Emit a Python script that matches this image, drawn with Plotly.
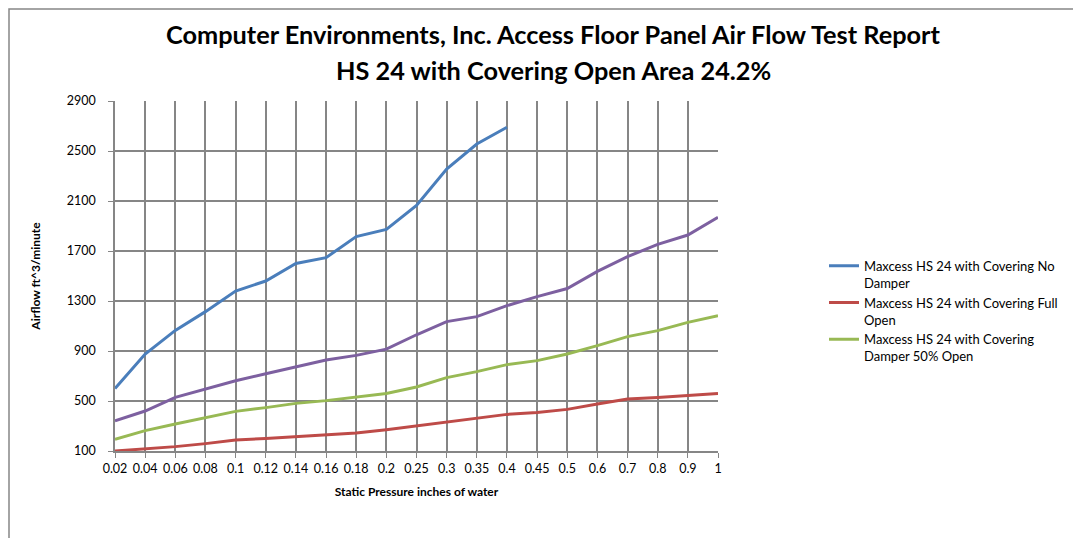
import plotly.graph_objects as go

categories = ["0.02", "0.04", "0.06", "0.08", "0.1", "0.12", "0.14", "0.16", "0.18", "0.2",
              "0.25", "0.3", "0.35", "0.4", "0.45", "0.5", "0.6", "0.7", "0.8", "0.9", "1"]

no_damper = [600, 875, 1065, 1215, 1380, 1460, 1600, 1647, 1815, 1873,
             2065, 2356, 2556, 2690, None, None, None, None, None, None, None]
full_open = [100, 116, 135, 159, 188, 201, 215, 231, 244, 270,
             301, 329, 361, 393, 409, 433, 476, 516, 529, 545, 561]
damper_50 = [193, 263, 316, 367, 417, 447, 481, 503, 529, 560,
             612, 687, 735, 791, 823, 876, 943, 1015, 1063, 1129, 1183]
unlabeled = [341, 420, 529, 597, 662, 718, 772, 828, 865, 915,
             1030, 1135, 1175, 1263, 1335, 1400, 1537, 1655, 1753, 1828, 1969]

names = ["Maxcess HS 24 with Covering No<br>Damper",
         "Maxcess HS 24 with Covering Full<br>Open",
         "Maxcess HS 24 with Covering<br>Damper 50% Open"]

FONT = "Lato"

# page has an 8px body margin; plot area target in page px: x 115-718, y 101-451
OFF = 8
L, T = 115 - OFF, 101 - OFF
PW, PH = 603, 350
W, H = 1081, 538

fig = go.Figure()
fig.add_trace(go.Scatter(x=categories, y=no_damper, mode="lines", name=names[0],
                         line=dict(color="#4A7EBB", width=3)))
fig.add_trace(go.Scatter(x=categories, y=full_open, mode="lines", name=names[1],
                         line=dict(color="#BE4B48", width=3)))
fig.add_trace(go.Scatter(x=categories, y=damper_50, mode="lines", name=names[2],
                         line=dict(color="#98B954", width=3)))
fig.add_trace(go.Scatter(x=categories, y=unlabeled, mode="lines", showlegend=False,
                         line=dict(color="#7D60A0", width=3)))

grid = "#868686"
fig.update_layout(
    width=W, height=H,
    margin=dict(l=L, r=W - L - PW, t=T, b=H - T - PH),
    paper_bgcolor="white", plot_bgcolor="white",
    font=dict(family=FONT, color="black", size=12),
    xaxis=dict(type="category", range=[0, 20], showgrid=True, gridcolor=grid, gridwidth=1.5,
               showline=True, linecolor=grid, linewidth=1.5, ticks="outside", ticklen=5,
               tickcolor=grid, tickfont=dict(size=12.5), zeroline=False,
               title=dict(text="<b>Static Pressure inches of water</b>", font=dict(size=12), standoff=13)),
    yaxis=dict(range=[100, 2900], tick0=100, dtick=400, showgrid=True, gridcolor=grid, gridwidth=1.5,
               showline=True, linecolor=grid, linewidth=1.5, ticks="outside", ticklen=5,
               tickcolor=grid, tickfont=dict(size=12.5), zeroline=False, ticklabelstandoff=10,
               title=dict(text="<b>Airflow ft^3/minute</b>", font=dict(size=12), standoff=24)),
    legend=dict(x=(824 - 115) / PW, y=0.572, xanchor="left", yanchor="top", valign="top",
                font=dict(size=13), tracegroupgap=0, itemwidth=30, bgcolor="rgba(0,0,0,0)"),
    showlegend=True,
)

fig.add_annotation(text="<b>Computer Environments, Inc. Access Floor Panel Air Flow Test Report</b>",
                   xref="paper", yref="paper", x=(553 - 115) / PW, y=(451 - 34) / PH,
                   showarrow=False, font=dict(size=25.3, family=FONT), xanchor="center", yanchor="middle")
fig.add_annotation(text="<b>HS 24 with Covering Open Area 24.2%</b>",
                   xref="paper", yref="paper", x=(553 - 115) / PW, y=(451 - 70) / PH,
                   showarrow=False, font=dict(size=25.3, family=FONT), xanchor="center", yanchor="middle")

# chart frame (left and top edges visible)
fig.add_shape(type="rect", xref="paper", yref="paper",
              x0=(OFF + 1 - 115) / PW, x1=(1095 - 115) / PW,
              y0=(451 - 560) / PH, y1=(451 - OFF - 1) / PH,
              line=dict(color=grid, width=1.5), fillcolor="rgba(0,0,0,0)", layer="below")

fig.write_html("out.html")
